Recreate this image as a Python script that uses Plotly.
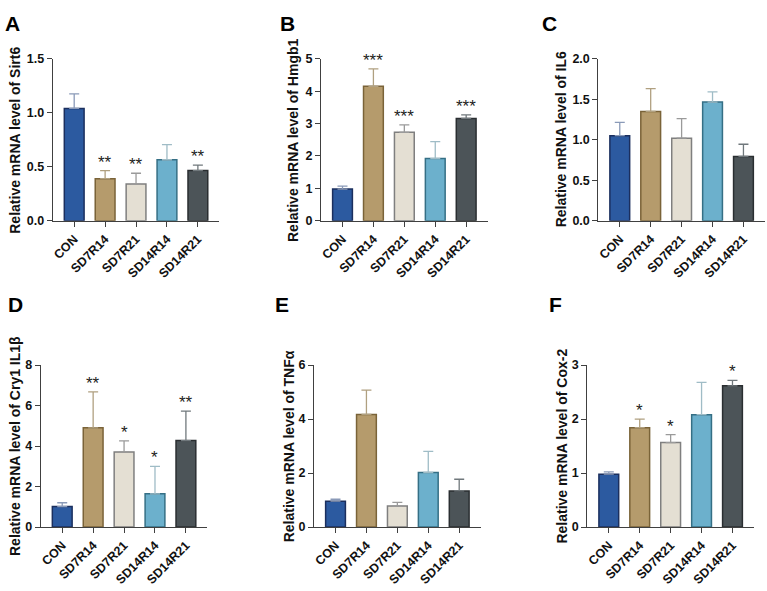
import plotly.graph_objects as go

groups = ["CON", "SD7R14", "SD7R21", "SD14R14", "SD14R21"]

# Panel A: Sirt6
sirt6_mean = [1.04, 0.39, 0.34, 0.565, 0.465]
sirt6_err = [0.135, 0.075, 0.10, 0.14, 0.05]
sirt6_sig = ["", "**", "**", "", "**"]

# Panel B: Hmgb1
hmgb1_mean = [0.98, 4.15, 2.73, 1.92, 3.16]
hmgb1_err = [0.09, 0.54, 0.23, 0.52, 0.11]
hmgb1_sig = ["", "***", "***", "", "***"]

# Panel C: IL6
il6_mean = [1.05, 1.35, 1.02, 1.465, 0.795]
il6_err = [0.165, 0.28, 0.24, 0.125, 0.15]
il6_sig = ["", "", "", "", ""]

# Panel D: Cry1 IL1beta
il1b_mean = [1.01, 4.9, 3.71, 1.64, 4.27]
il1b_err = [0.19, 1.77, 0.55, 1.36, 1.45]
il1b_sig = ["", "**", "*", "*", "**"]

# Panel E: TNFalpha
tnfa_mean = [0.96, 4.17, 0.78, 2.02, 1.34]
tnfa_err = [0.07, 0.9, 0.135, 0.78, 0.43]
tnfa_sig = ["", "", "", "", ""]

# Panel F: Cox-2
cox2_mean = [0.98, 1.84, 1.565, 2.08, 2.615]
cox2_err = [0.04, 0.16, 0.145, 0.6, 0.10]
cox2_sig = ["", "*", "*", "", "*"]

panel_letters = ["A", "B", "C", "D", "E", "F"]
y_titles = ["Relative mRNA level of Sirt6", "Relative mRNA level of Hmgb1",
            "Relative mRNA level of IL6", "Relative mRNA level of Cry1 IL1β",
            "Relative mRNA level of TNFα", "Relative mRNA level of Cox-2"]
y_max = [1.5, 5, 2.0, 8, 6, 3]
y_dtick = [0.5, 1, 0.5, 2, 2, 1]
y_fmt = [".1f", "d", ".1f", "d", "d", "d"]

panels = [
    (sirt6_mean, sirt6_err, sirt6_sig),
    (hmgb1_mean, hmgb1_err, hmgb1_sig),
    (il6_mean, il6_err, il6_sig),
    (il1b_mean, il1b_err, il1b_sig),
    (tnfa_mean, tnfa_err, tnfa_sig),
    (cox2_mean, cox2_err, cox2_sig),
]

fill_colors = ["#2c5aa0", "#b59b6c", "#e4dfd3", "#6cb0cc", "#4c5458"]
line_colors = ["#1b2f5e", "#7a6338", "#7f7f7f", "#356f85", "#2a2e31"]
err_colors = ["#8a9ab8", "#b0a080", "#9a9a9a", "#9fbcc6", "#70787c"]

W, H = 767, 591
FONT = "Liberation Sans, Arial, sans-serif"
AX = "#404040"

x0_px = [51, 320, 598, 39, 313, 587]
ax_w = 167
y_rows = [(53, 219), (366.7, 532.7)]
title_x_px = [13, 292, 560, 13, 288, 562]
letter_pos = [(2, 7), (278, 7), (540, 7), (5, 295), (273, 295), (547, 295)]

fig = go.Figure()
layout = dict(width=W, height=H, margin=dict(l=0, r=0, t=0, b=0),
              paper_bgcolor="white", plot_bgcolor="white",
              barmode="overlay", showlegend=False)
annotations = []

for p, (means, errs, sigs) in enumerate(panels):
    k = p + 1
    xa = "x" if k == 1 else f"x{k}"
    ya = "y" if k == 1 else f"y{k}"
    for j, g in enumerate(groups):
        fig.add_trace(go.Bar(
            x=[g], y=[means[j]], width=0.64,
            marker=dict(color=fill_colors[j], line=dict(color=line_colors[j], width=1.5)),
            error_y=dict(type="data", array=[errs[j]], arrayminus=[0], symmetric=False,
                         color=err_colors[j], thickness=1.3, width=5),
            xaxis=xa, yaxis=ya, hoverinfo="skip"))
        if sigs[j]:
            annotations.append(dict(x=g, y=means[j] + errs[j], xref=xa, yref=ya,
                                    text=sigs[j], showarrow=False, yanchor="bottom",
                                    yshift=-3,
                                    font=dict(family=FONT, size=17, color="#222222")))
    row = 0 if p < 3 else 1
    ytop, ybot = y_rows[row]
    xd = [x0_px[p] / W, (x0_px[p] + ax_w) / W]
    yd = [1 - ybot / H, 1 - ytop / H]
    layout["xaxis" if k == 1 else f"xaxis{k}"] = dict(
        domain=xd, anchor=ya, type="category", categoryorder="array",
        categoryarray=groups, range=[-0.69, -0.69 + ax_w / 31.0],
        showline=True, linecolor=AX, linewidth=1.3, ticks="outside",
        ticklen=5, tickwidth=1.3, tickcolor=AX, tickangle=-45,
        tickfont=dict(family=FONT, size=12.5, color="#111111", weight="bold"),
        showgrid=False, zeroline=False, fixedrange=True)
    layout["yaxis" if k == 1 else f"yaxis{k}"] = dict(
        domain=yd, anchor=xa, range=[0, y_max[p]], dtick=y_dtick[p], tick0=0,
        tickformat=y_fmt[p], showline=True, linecolor=AX, linewidth=1.3,
        ticks="outside", ticklen=5, tickwidth=1.3, tickcolor=AX,
        tickfont=dict(family=FONT, size=12.5, color="#111111", weight="bold"),
        showgrid=False, zeroline=False, fixedrange=True)
    annotations.append(dict(x=title_x_px[p] / W, y=(yd[0] + yd[1]) / 2,
                            xref="paper", yref="paper", text=y_titles[p],
                            textangle=-90, showarrow=False, xanchor="center",
                            yanchor="middle",
                            font=dict(family=FONT, size=14, color="#111111", weight="bold")))
    lx, ly = letter_pos[p]
    annotations.append(dict(x=lx / W, y=1 - (ly - 4) / H, xref="paper", yref="paper",
                            text=panel_letters[p], showarrow=False, xanchor="left",
                            yanchor="top", xshift=-1,
                            font=dict(family=FONT, size=21, color="#000000", weight="bold")))

layout["annotations"] = annotations
fig.update_layout(**layout)
fig.write_html("out.html")
